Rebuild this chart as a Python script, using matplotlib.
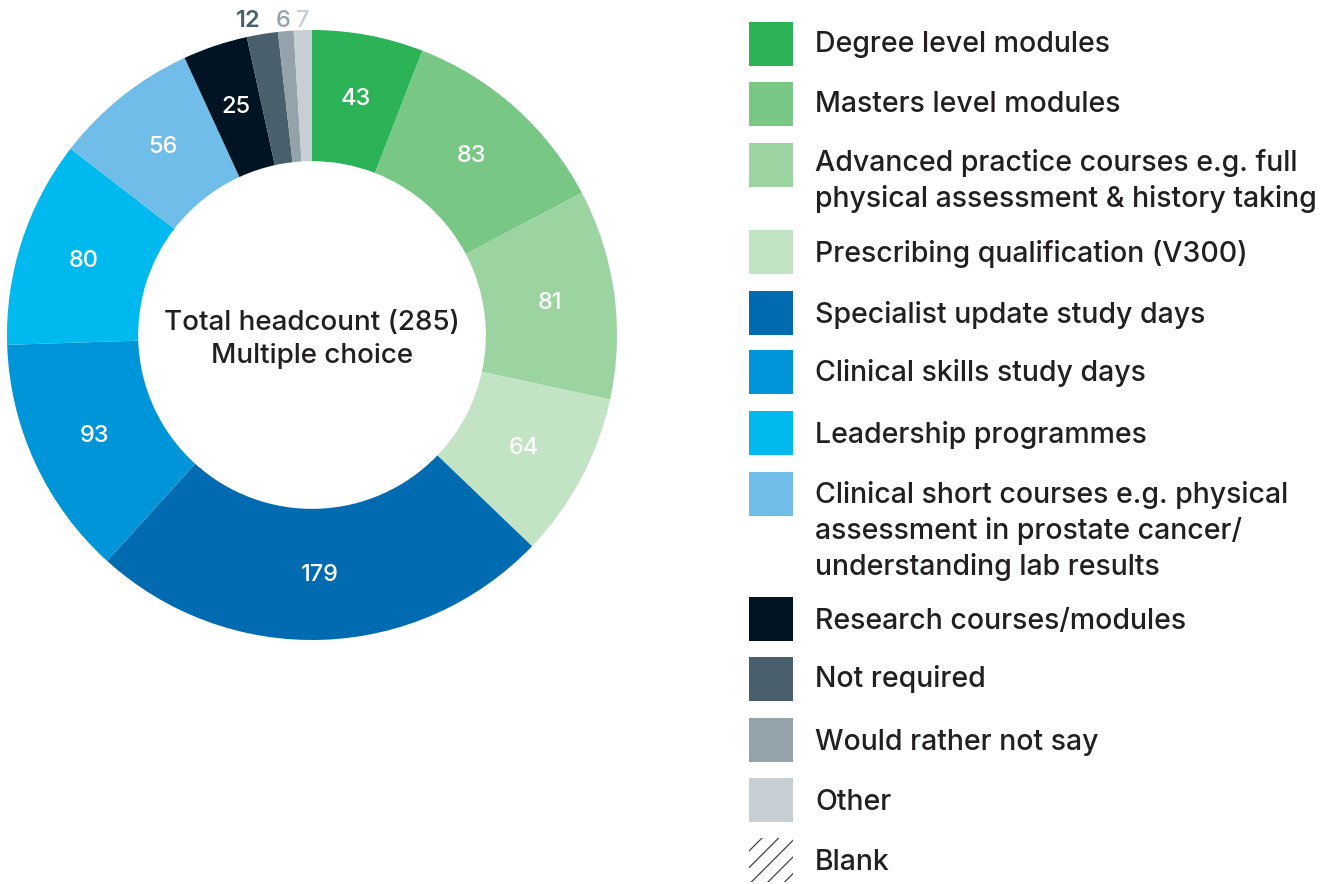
import matplotlib
matplotlib.use("Agg")
import matplotlib.pyplot as plt
import numpy as np
from matplotlib.patches import Rectangle

plt.rcParams["font.family"] = ["Inter", "DejaVu Sans"]
plt.rcParams["font.weight"] = "medium"
plt.rcParams["hatch.linewidth"] = 0.9

categories = [
    "Degree level modules",
    "Masters level modules",
    "Advanced practice courses e.g. full\nphysical assessment & history taking",
    "Prescribing qualification (V300)",
    "Specialist update study days",
    "Clinical skills study days",
    "Leadership programmes",
    "Clinical short courses e.g. physical\nassessment in prostate cancer/\nunderstanding lab results",
    "Research courses/modules",
    "Not required",
    "Would rather not say",
    "Other",
]
values = [43, 83, 81, 64, 179, 93, 80, 56, 25, 12, 6, 7]
colors = ["#2db357", "#79c785", "#9bd4a0", "#c2e3c4", "#006bb0", "#0095d8",
          "#00b9ef", "#71bde9", "#001423", "#4a5f6c", "#94a3ab", "#c7cfd4"]
legend_extra = "Blank"
center_text = "Total headcount (285)\nMultiple choice"

W, H = 1338, 884
fig = plt.figure(figsize=(W / 100, H / 100), dpi=100)

# donut
cx, cy, R = 312, 335, 305
ax = fig.add_axes([(cx - R) / W, (H - cy - R) / H, 2 * R / W, 2 * R / H])
wedges, _ = ax.pie(values, colors=colors, startangle=90, counterclock=False,
                   radius=1.0, wedgeprops=dict(width=0.43, linewidth=0))
ax.set_xlim(-1, 1)
ax.set_ylim(-1, 1)
ax.set_aspect("equal")
ax.axis("off")

total = sum(values)
# small slices get labels outside the ring, nudged apart
outside = {9: (-0.21, 1.028), 10: (-0.095, 1.028), 11: (-0.03, 1.028)}
cum = 0
for i, v in enumerate(values):
    mid = 90 - (cum + v / 2) / total * 360
    cum += v
    if i in outside:
        x, y = outside[i]
        ax.text(x, y, str(v), ha="center", va="center", fontsize=17,
                color=colors[i], fontweight="semibold" if i == 9 else "medium")
    else:
        r = 0.787
        x, y = r * np.cos(np.radians(mid)), r * np.sin(np.radians(mid))
        ax.text(x, y, str(v), ha="center", va="center", fontsize=17, color="white")

ax.text(0, -0.014, center_text, ha="center", va="center", fontsize=20,
        color="#231f20", linespacing=1.35)

# legend drawn by hand in pixel coords
lax = fig.add_axes([0, 0, 1, 1])
lax.set_xlim(0, W)
lax.set_ylim(H, 0)
lax.axis("off")
rows_y = [44, 104, 165, 252, 313, 372, 433, 494, 619, 679, 740, 800]
first_line = [44, 105, 163, 254, 315, 373, 435, 495, 621, 679, 743, 802]
line_h = 36
for label, col, yc, yt in zip(categories, colors, rows_y, first_line):
    lax.add_patch(Rectangle((749, yc - 22), 44, 44, facecolor=col, edgecolor="none"))
    n = label.count("\n")
    lax.text(815, yt + n * line_h / 2, label, ha="left", va="center", fontsize=20.5,
             color="#231f20", linespacing=1.38)
yb = 860
lax.add_patch(Rectangle((749, yb - 22), 44, 44, fill=False, hatch="//",
                        edgecolor="#444444", linewidth=0))
lax.text(815, yb + 2, legend_extra, ha="left", va="center", fontsize=20.5, color="#231f20")

fig.savefig("out.png", dpi=100)
